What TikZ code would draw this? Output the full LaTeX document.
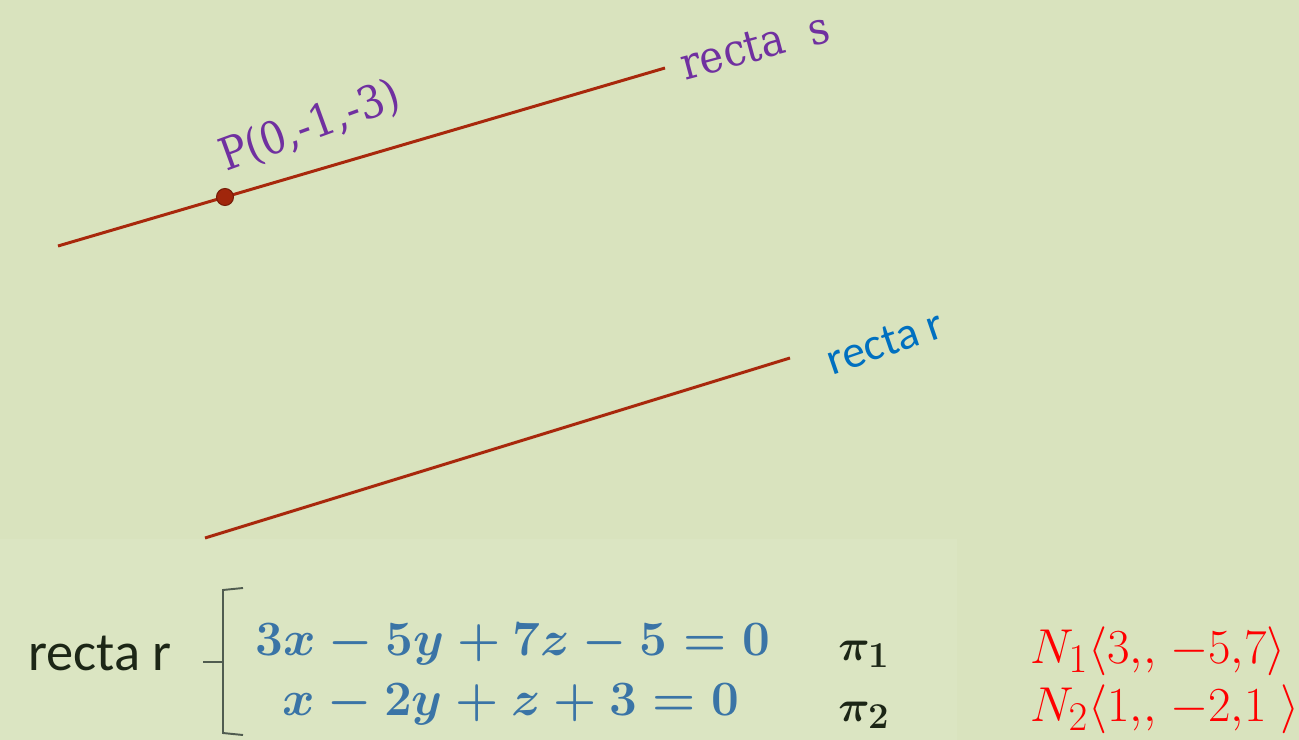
\documentclass[tikz,border=0pt]{standalone}
\usepackage{graphicx}
\usepackage{fontspec}
\IfFontExistsTF{DejaVu Serif Condensed}{\newfontfamily\timesf{DejaVu Serif Condensed}\newcommand\serifsize{25.5}}{\newfontfamily\timesf{DejaVu Serif}\newcommand\serifsize{23}}
\newfontfamily\calib{Carlito}
\usepackage{amsmath}
\definecolor{bg}{RGB}{217,227,190}
\definecolor{bglight}{RGB}{219,229,194}
\definecolor{linered}{RGB}{168,40,12}
\definecolor{purp}{RGB}{112,48,160}
\definecolor{bluer}{RGB}{0,112,192}
\definecolor{eqblue}{RGB}{58,116,166}
\definecolor{darktxt}{RGB}{28,38,22}
\definecolor{bracegray}{RGB}{80,92,80}
\begin{document}
\begin{tikzpicture}[x=0.02cm,y=-0.02cm,
  rline/.style={linered,line width=1.7pt},
  serlab/.style={purp,font=\timesf\fontsize{\serifsize}{28}\selectfont,inner sep=0pt},
  sanslab/.style={font=\calib\fontsize{26}{29}\selectfont,inner sep=0pt},
  eqtxt/.style={eqblue,font=\fontsize{24.88}{28}\selectfont\boldmath,inner sep=0pt,anchor=base},
  pitxt/.style={darktxt,font=\fontsize{24.88}{28}\selectfont\boldmath,inner sep=0pt,anchor=base west},
  ntxt/.style={red,font=\fontsize{24.88}{28}\selectfont,inner sep=0pt,anchor=base west}]
\useasboundingbox (0,0) rectangle (1299,740);
\fill[bg] (0,0) rectangle (1299,740);
\fill[bglight] (0,539) rectangle (957,740);
% recta s
\coordinate (s1) at (58,246);
\coordinate (s2) at (665,68);
\draw[rline] (s1) -- (s2);
\node[circle,fill=linered!95!black,draw=linered!70!black,line width=0.6pt,inner sep=0pt,minimum size=0.34cm] (P) at (225,197) {};
\node[serlab,rotate=20] (Plab) at (310,127) {P(0,-1,-3)};
\node[serlab,rotate=15] (slab) at (755,46) {recta\ \ s};
% recta r
\coordinate (r1) at (205,538);
\coordinate (r2) at (790,358);
\draw[rline] (r1) -- (r2);
\node[sanslab,bluer,rotate=19] (rlab) at (885,342) {recta r};
% system
\node[sanslab,darktxt,font=\calib\fontsize{31}{34}\selectfont,anchor=base west] (rr) at (28,670) {recta r};
\coordinate (bt1) at (243,588);
\coordinate (bt2) at (223,590);
\coordinate (bm) at (223,662);
\coordinate (bl) at (203,662);
\coordinate (bb1) at (223,733);
\coordinate (bb2) at (243,735);
\draw[bracegray,line width=1.1pt] (bt1) -- (bt2) -- (bb1) -- (bb2);
\draw[bracegray,line width=1.1pt] (bl) -- (bm);
\node[eqtxt] (e1) at (513,655) {\scalebox{1.13}{$3x-5y+7z-5=0$}};
\node[eqtxt] (e2) at (511,715) {\scalebox{1.13}{$x-2y+z+3=0$}};
\node[pitxt] (p1) at (838,660) {$\pi_1$};
\node[pitxt] (p2) at (838,721) {$\pi_2$};
\node[ntxt] (n1) at (1030,663) {\scalebox{1.12}{$N_1\langle 3{,}{,}\;{-5}{,}7\rangle$}};
\node[ntxt] (n2) at (1030,721) {\scalebox{1.12}{$N_2\langle 1{,}{,}\;{-2}{,}1\;\rangle$}};
\end{tikzpicture}
\end{document}
